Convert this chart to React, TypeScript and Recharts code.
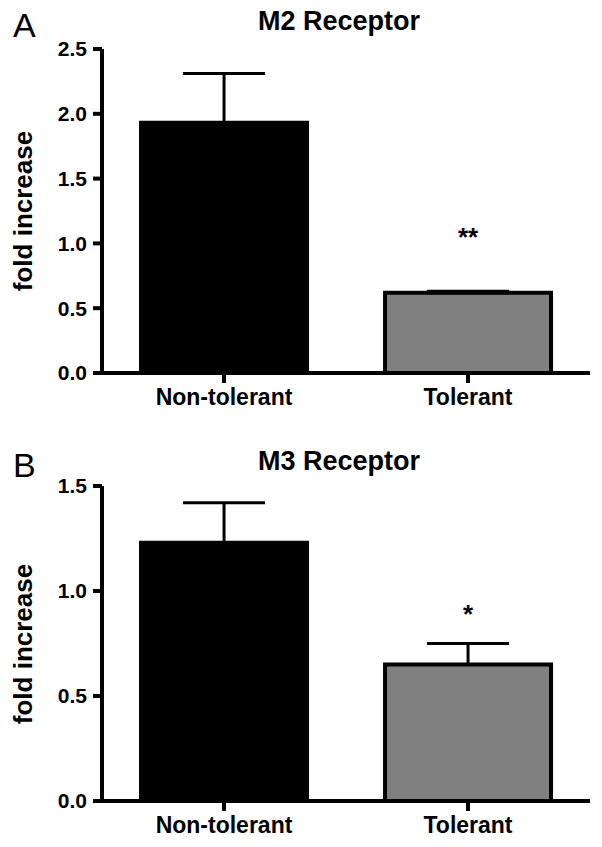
import { BarChart, Bar, XAxis, YAxis, Cell, ErrorBar, ReferenceDot } from 'recharts';

// groups on the x axis
const groups = ['Non-tolerant', 'Tolerant'];
const barColors = ['#000000', '#808080'];

// panel A: M2 receptor
const m2Means = [1.93, 0.62];
const m2Sem = [0.38, 0.01];
const m2Ticks = [0, 0.5, 1, 1.5, 2, 2.5];

// panel B: M3 receptor
const m3Means = [1.23, 0.65];
const m3Sem = [0.19, 0.1];
const m3Ticks = [0, 0.5, 1, 1.5];

const font = '"Liberation Sans", Arial, sans-serif';

interface PanelProps {
  top: number;
  letter: string;
  title: string;
  means: number[];
  sems: number[];
  ticks: number[];
  star: string;
  starLevel: number;
  chartHeight: number;
  marginTop: number;
  marginBottom: number;
}

function Panel({ top, letter, title, means, sems, ticks, star, starLevel, chartHeight, marginTop, marginBottom }: PanelProps) {
  const data = groups.map((g, i) => ({ group: g, mean: means[i], err: [0, sems[i]] }));
  const plotTop = top + marginTop;
  const plotBottom = top + chartHeight - marginBottom - 50;
  const midY = (plotTop + plotBottom) / 2;

  return (
    <>
      <div style={{ position: 'absolute', left: 13, top: top + 8, fontSize: 34, lineHeight: '34px', fontFamily: font }}>
        {letter}
      </div>
      <div style={{ position: 'absolute', left: 189, width: 300, top: top + 8, textAlign: 'center', fontSize: 27, lineHeight: '27px', fontWeight: 'bold', fontFamily: font }}>
        {title}
      </div>
      <div
        style={{
          position: 'absolute', left: 23 - 150, top: midY - 13, width: 300, height: 26,
          textAlign: 'center', fontSize: 26, lineHeight: '26px', fontWeight: 'bold', fontFamily: font,
          transform: 'rotate(-90deg)',
        }}
      >
        fold increase
      </div>
      <div style={{ position: 'absolute', left: 0, top }}>
        <BarChart
          width={602}
          height={chartHeight}
          data={data}
          margin={{ top: marginTop, right: 12, bottom: marginBottom, left: 30 }}
          barCategoryGap="16%"
        >
          <XAxis
            dataKey="group"
            height={50}
            axisLine={{ stroke: '#000', strokeWidth: 4 }}
            tickLine={{ stroke: '#000', strokeWidth: 4 }}
            tickSize={10}
            tickMargin={6}
            tick={{ fill: '#000', fontSize: 23, fontWeight: 'bold', fontFamily: font }}
          />
          <YAxis
            width={72}
            domain={[0, ticks[ticks.length - 1]]}
            ticks={ticks}
            tickFormatter={(v: number) => v.toFixed(1)}
            axisLine={{ stroke: '#000', strokeWidth: 4 }}
            tickLine={{ stroke: '#000', strokeWidth: 4 }}
            tickSize={9}
            tickMargin={6}
            tick={{ fill: '#000', fontSize: 21, fontWeight: 'bold', fontFamily: font }}
          />
          <Bar dataKey="mean" stroke="#000" strokeWidth={4} isAnimationActive={false}>
            {data.map((d, i) => (
              <Cell key={d.group} fill={barColors[i]} />
            ))}
            <ErrorBar dataKey="err" width={41} stroke="#000" strokeWidth={3} direction="y" isAnimationActive={false} />
          </Bar>
          <ReferenceDot
            x="Tolerant"
            y={starLevel}
            r={0}
            fill="none"
            stroke="none"
            label={{ value: star, position: 'center', fontSize: 26, fontWeight: 'bold', fill: '#000', fontFamily: font }}
          />
        </BarChart>
      </div>
    </>
  );
}

export default function App() {
  return (
    <div style={{ position: 'absolute', left: 0, top: 0, width: 602, height: 847, background: '#fff' }}>
      <Panel
        top={0}
        letter="A"
        title="M2 Receptor"
        means={m2Means}
        sems={m2Sem}
        ticks={m2Ticks}
        star="**"
        starLevel={1.05}
        chartHeight={430}
        marginTop={49}
        marginBottom={7}
      />
      <Panel
        top={440}
        letter="B"
        title="M3 Receptor"
        means={m3Means}
        sems={m3Sem}
        ticks={m3Ticks}
        star="*"
        starLevel={0.89}
        chartHeight={420}
        marginTop={46}
        marginBottom={9}
      />
    </div>
  );
}
